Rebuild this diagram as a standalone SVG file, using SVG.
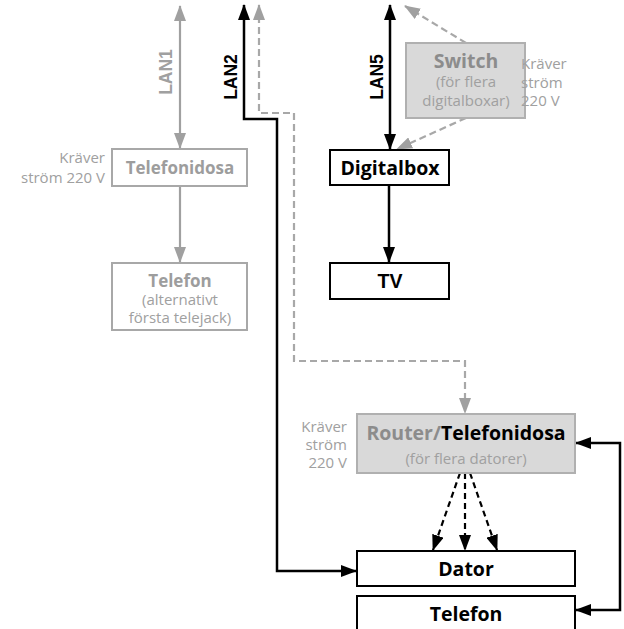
<svg xmlns="http://www.w3.org/2000/svg" width="624" height="629" viewBox="0 0 624 629">
<defs>
<style>
.t{font-family:"Open Sans","Noto Sans",sans-serif;}
.lan{font-family:"Liberation Sans",Arial,sans-serif;font-weight:bold;font-size:17.5px;text-anchor:middle;}
.big{font-weight:bold;font-size:19.5px;text-anchor:middle;}
.mid{font-weight:bold;font-size:17px;text-anchor:middle;fill:#9d9d9d;}
.sm{font-size:15px;fill:#a0a0a0;}
.c{text-anchor:middle;}
.e{text-anchor:end;}
.bw{fill:#fff;stroke:#000;stroke-width:2;}
.gw{fill:#fff;stroke:#a8a8a8;stroke-width:2;}
.gf{fill:#d9d9d9;stroke:#b0b0b0;stroke-width:2;}
.kl{fill:none;stroke:#000;stroke-width:2.5;}
.gl{fill:none;stroke:#a0a0a0;stroke-width:2.2;}
.gd{fill:none;stroke:#a8a8a8;stroke-width:2.2;stroke-dasharray:7 4;}
.kd{fill:none;stroke:#000;stroke-width:2.2;stroke-dasharray:6 4;}
</style>
<marker id="ak" markerUnits="userSpaceOnUse" viewBox="0 0 16 12" markerWidth="16" markerHeight="12" refX="15" refY="6" orient="auto-start-reverse"><path d="M0,0 L16,6 L0,12 z" fill="#000"/></marker>
<marker id="ag" markerUnits="userSpaceOnUse" viewBox="0 0 16 12" markerWidth="16" markerHeight="12" refX="15" refY="6" orient="auto-start-reverse"><path d="M0,0 L16,6 L0,12 z" fill="#a0a0a0"/></marker>
</defs>

<g id="connectors">
<path class="gl" d="M180,6 L180,148" marker-start="url(#ag)" marker-end="url(#ag)"/>
<path class="kl" d="M244,5 L244,119 L277,119 L277,571 L356,571" marker-start="url(#ak)" marker-end="url(#ak)"/>
<path class="gd" d="M259,5 L259,113 L294,113 L294,361 L465,361 L465,413" marker-start="url(#ag)" marker-end="url(#ag)"/>
<path class="kl" d="M390,5 L390,149" marker-start="url(#ak)" marker-end="url(#ak)"/>
<path class="gd" d="M466,43 L405,6" marker-end="url(#ag)"/>
<path class="gd" d="M466,118 L397,149" marker-end="url(#ag)"/>
<path class="kl" d="M389,185 L389,262" marker-end="url(#ak)"/>
<path class="gl" d="M180,186 L180,262" marker-end="url(#ag)"/>
<path class="kd" d="M460,473 L433,550" marker-end="url(#ak)"/>
<path class="kd" d="M465,473 L465,550" marker-end="url(#ak)"/>
<path class="kd" d="M470,473 L497,550" marker-end="url(#ak)"/>
<path class="kl" d="M576,443 L620,443 L620,610 L576,610" marker-start="url(#ak)" marker-end="url(#ak)"/>
</g>

<g id="lan-labels">
<text class="lan" transform="translate(172,72) rotate(-90)" fill="#a0a0a0">LAN1</text>
<text class="lan" transform="translate(237,77) rotate(-90)" fill="#000">LAN2</text>
<text class="lan" transform="translate(383,77) rotate(-90)" fill="#000">LAN5</text>
</g>

<g id="telefonidosa-left">
<rect class="gw" x="112" y="149" width="135" height="37"/>
<text class="t mid" x="180" y="174">Telefonidosa</text>
<text class="t sm e" x="105" y="163">Kräver<tspan x="105" dy="20">ström 220 V</tspan></text>
</g>

<g id="telefon-left">
<rect class="gw" x="112" y="263" width="135" height="67"/>
<text class="t c" x="180" y="287"><tspan class="mid">Telefon</tspan><tspan class="sm" x="180" dy="18">(alternativt</tspan><tspan class="sm" x="180" dy="18">första telejack)</tspan></text>
</g>

<g id="switch">
<rect class="gf" x="406" y="43" width="119" height="75"/>
<text class="t c" x="466" y="68"><tspan class="big" fill="#8c8c8c">Switch</tspan><tspan class="sm" x="466" dy="19">(för flera</tspan><tspan class="sm" x="466" dy="18.5">digitalboxar)</tspan></text>
<text class="t sm" x="521" y="69">Kräver<tspan x="521" dy="18.5">ström</tspan><tspan x="521" dy="18.5">220 V</tspan></text>
</g>

<g id="digitalbox">
<rect class="bw" x="330" y="150" width="119" height="35"/>
<text class="t big" x="390" y="175" fill="#000">Digitalbox</text>
</g>

<g id="tv">
<rect class="bw" x="330" y="263" width="119" height="36"/>
<text class="lan" x="390" y="288" fill="#000" style="font-size:19.5px">TV</text>
</g>

<g id="router">
<rect class="gf" x="357" y="414" width="218" height="59"/>
<text class="t c" x="466" y="440"><tspan class="big" fill="#8c8c8c">Router/</tspan><tspan class="big" fill="#000">Telefonidosa</tspan><tspan class="sm" x="466" dy="24">(för flera datorer)</tspan></text>
<text class="t sm e" x="347" y="432">Kräver<tspan x="347" dy="18">ström</tspan><tspan x="347" dy="18">220 V</tspan></text>
</g>

<g id="dator">
<rect class="bw" x="357" y="551" width="218" height="35"/>
<text class="t big" x="466" y="576" fill="#000">Dator</text>
</g>

<g id="telefon">
<rect class="bw" x="357" y="596" width="218" height="45"/>
<text class="t big" x="466" y="621" fill="#000">Telefon</text>
</g>
</svg>
